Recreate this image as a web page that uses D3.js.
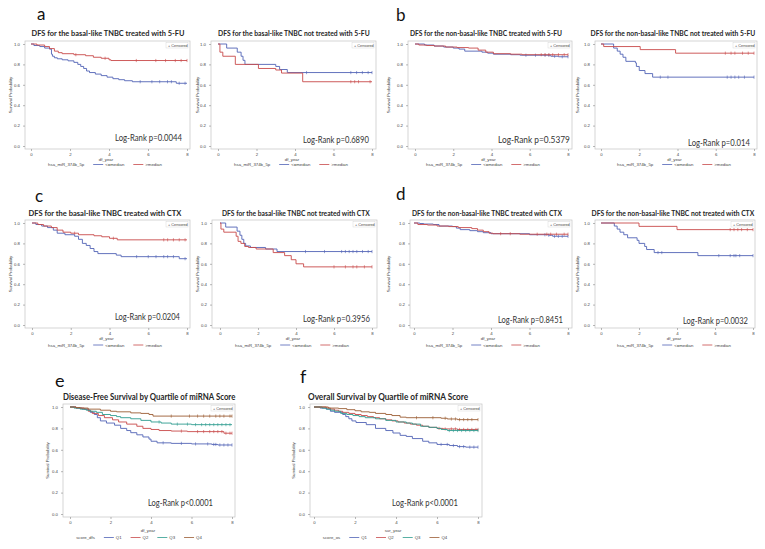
<!DOCTYPE html>
<html><head><meta charset="utf-8">
<script src="https://cdn.jsdelivr.net/npm/d3@7"></script>
<style>body{margin:0;background:#fff} svg{display:block}</style>
</head><body>
<svg id="chart" width="765" height="549"></svg>
<script>
// ---------- DATA ----------
const xTicks = [0, 2, 4, 6, 8];
const yTicks = [0, 0.2, 0.4, 0.6, 0.8, 1.0];
const letters = ["a", "b", "c", "d", "e", "f"];
const titles = [
  "DFS for the basal-like TNBC treated with 5-FU",
  "DFS for the basal-like TNBC not treated with 5-FU",
  "DFS for the non-basal-like TNBC treated with 5-FU",
  "DFS for the non-basal-like TNBC not treated with 5-FU",
  "DFS for the basal-like TNBC treated with CTX",
  "DFS for the basal-like TNBC not treated with CTX",
  "DFS for the non-basal-like TNBC treated with CTX",
  "DFS for the non-basal-like TNBC not treated with CTX",
  "Disease-Free Survival by Quartile of miRNA Score",
  "Overall Survival by Quartile of miRNA Score"
];
const logRank = ["Log-Rank p=0.0044", "Log-Rank p=0.6890", "Log-Rank p=0.5379", "Log-Rank p=0.014",
  "Log-Rank p=0.0204", "Log-Rank p=0.3956", "Log-Rank p=0.8451", "Log-Rank p=0.0032",
  "Log-Rank p<0.0001", "Log-Rank p<0.0001"];
const medianGroups = ["<=median", ">median"];
const quartileGroups = ["Q1", "Q2", "Q3", "Q4"];
const legendTitles = ["hsa_miR_374b_5p", "score_dfs", "score_os"];
const xTitles = ["df_year", "sur_year"];
const yTitle = "Survival Probability";
const censoredLabel = "Censored";

// Kaplan-Meier steps [time, survival] and censor times
const a1Low = [[0,1],[0.15,0.985],[0.45,0.975],[0.7,0.96],[0.95,0.95],[1.05,0.9],[1.1,0.88],[1.2,0.865],[1.35,0.855],[1.6,0.845],[1.9,0.835],[2.2,0.82],[2.4,0.8],[2.55,0.78],[2.7,0.76],[2.85,0.735],[3.0,0.72],[3.3,0.705],[3.6,0.69],[3.9,0.675],[4.2,0.66],[4.5,0.65],[4.8,0.64],[5.2,0.63],[7.45,0.615]];
const a1LowC = [5.6,6.2,6.6,7.0,7.2,7.6,7.9];
const a1High = [[0,1],[0.3,0.99],[0.7,0.975],[0.95,0.955],[1.2,0.93],[1.4,0.915],[1.6,0.905],[2.2,0.895],[2.8,0.885],[3.2,0.87],[3.6,0.86],[4.0,0.845],[4.1,0.838]];
const a1HighC = [2.3,3.8,5.4,6.4,6.9,7.4,7.7,8.0];
const a2Low = [[0,1],[0.45,0.96],[1.0,0.92],[1.2,0.88],[1.3,0.84],[1.4,0.8],[3.0,0.78],[3.2,0.75],[3.6,0.72]];
const a2LowC = [4.6,6.9,7.2,7.5,7.8,8.0];
const a2High = [[0,1],[0.1,0.92],[0.25,0.88],[0.9,0.8],[2.1,0.76],[3.0,0.745],[3.3,0.715],[4.4,0.63]];
const a2HighC = [6.9,7.1,7.3,7.9];
const b1Low = [[0,1],[0.5,0.99],[1.0,0.98],[1.5,0.97],[2.0,0.96],[2.3,0.95],[2.6,0.93],[3.5,0.92],[3.8,0.91],[4.1,0.9],[5.0,0.895],[5.5,0.89],[7.1,0.88],[7.5,0.875]];
const b1LowC = [5.8,6.3,6.8,7.0,7.3,7.7,8.0];
const b1High = [[0,1],[0.2,0.99],[0.6,0.985],[1.0,0.98],[1.6,0.97],[2.2,0.965],[2.8,0.96],[3.3,0.94],[3.7,0.92],[4.1,0.905],[5.0,0.9],[5.6,0.895]];
const b1HighC = [6.6,6.8,7.0,7.2,7.5,7.8,8.0];
const b2Low = [[0,1],[0.66,0.96],[0.85,0.93],[1.0,0.9],[1.15,0.87],[1.3,0.83],[1.8,0.815],[1.85,0.78],[2.0,0.74],[2.3,0.71],[2.7,0.675]];
const b2LowC = [3.1,3.5,6.6,6.8,7.0,7.2,7.5,8.0];
const b2High = [[0,1],[0.14,0.975],[2.05,0.945],[3.9,0.91]];
const b2HighC = [6.5,6.8,7.0,7.4,7.7,8.0];
const c1Low = [[0,1],[0.2,0.985],[0.5,0.97],[0.8,0.955],[1.1,0.93],[1.3,0.9],[1.7,0.885],[2.2,0.87],[2.4,0.84],[2.6,0.8],[2.8,0.78],[3.0,0.75],[3.2,0.72],[3.4,0.7],[4.35,0.685],[4.6,0.67],[7.6,0.65]];
const c1LowC = [5.4,6.0,6.4,6.8,7.0,7.3,7.9];
const c1High = [[0,1],[0.3,0.985],[0.6,0.97],[1.0,0.955],[1.3,0.93],[1.6,0.91],[2.0,0.9],[2.4,0.885],[3.2,0.875],[3.6,0.865],[4.0,0.85],[4.4,0.835]];
const c1HighC = [2.2,4.2,6.8,7.0,7.3,7.6,7.9];
const c2Low = [[0,1],[0.3,0.96],[0.9,0.92],[1.05,0.88],[1.15,0.84],[1.25,0.8],[1.35,0.775],[1.6,0.76],[2.4,0.745],[3.0,0.72]];
const c2LowC = [4.5,5.5,6.4,6.6,6.8,7.0,7.2,7.5,7.8,8.0];
const c2High = [[0,1],[0.05,0.94],[0.2,0.91],[0.85,0.87],[0.95,0.82],[1.1,0.8],[1.3,0.77],[1.5,0.76],[1.9,0.745],[2.8,0.71],[3.4,0.68],[3.75,0.64],[4.0,0.6],[4.4,0.57]];
const c2HighC = [6.0,6.6,7.0,7.2,7.6,8.0];
const d1Low = [[0,1],[0.3,0.995],[0.5,0.99],[1.0,0.985],[1.3,0.97],[2.0,0.965],[2.2,0.95],[2.4,0.935],[2.9,0.925],[3.3,0.915],[3.6,0.905],[4.0,0.895],[6.0,0.885],[7.0,0.88],[7.2,0.87]];
const d1LowC = [6.8,7.0,7.3,7.5,7.7,8.0];
const d1High = [[0,1],[0.2,0.985],[0.7,0.98],[1.2,0.97],[1.8,0.965],[2.3,0.955],[3.0,0.945],[3.3,0.93],[3.6,0.915],[3.9,0.9],[4.1,0.895],[5.5,0.89]];
const d1HighC = [4.5,5.0,6.4,6.9,7.1,7.4,7.8,8.0];
const d2Low = [[0,1],[0.7,0.97],[0.85,0.94],[1.0,0.91],[1.2,0.885],[1.4,0.855],[1.9,0.83],[2.0,0.8],[2.3,0.77],[2.4,0.74],[2.8,0.71],[5.1,0.68]];
const d2LowC = [3.0,3.2,6.2,6.8,7.0,7.1,7.3,8.0];
const d2High = [[0,1],[2.0,0.967],[4.0,0.935]];
const d2HighC = [6.8,7.0,7.2,7.4,7.7,8.0];
const eQ1 = [[0,1],[0.3,0.99],[0.6,0.98],[0.9,0.97],[1.0,0.95],[1.2,0.93],[1.35,0.9],[1.5,0.87],[1.8,0.85],[2.2,0.83],[2.5,0.8],[2.8,0.78],[3.0,0.76],[3.3,0.74],[3.6,0.72],[3.9,0.7],[4.0,0.68],[4.3,0.665],[5.0,0.66],[6.0,0.655],[7.0,0.65],[7.3,0.645]];
const eQ1C = [4.6,5.5,6.2,6.8,7.1,7.2,7.4,7.6,7.8,8.0];
const eQ2 = [[0,1],[0.3,0.99],[0.7,0.98],[0.9,0.96],[1.1,0.94],[1.4,0.92],[1.7,0.9],[2.1,0.88],[2.4,0.86],[2.8,0.84],[3.3,0.82],[3.6,0.8],[4.0,0.79],[4.4,0.78],[5.0,0.775],[5.8,0.77],[7.6,0.755]];
const eQ2C = [5.5,6.3,6.6,6.9,7.1,7.3,7.5,7.7,7.9,8.0];
const eQ3 = [[0,1],[0.2,0.99],[0.5,0.98],[0.8,0.97],[1.0,0.96],[1.3,0.95],[1.6,0.93],[2.0,0.92],[2.3,0.91],[2.5,0.9],[3.0,0.89],[3.5,0.875],[4.0,0.86],[4.5,0.85],[5.0,0.84],[6.0,0.835]];
const eQ3C = [4.4,5.3,5.8,6.2,6.5,6.7,6.9,7.1,7.3,7.5,7.7,7.9];
const eQ4 = [[0,1],[0.3,0.995],[0.5,0.99],[0.9,0.98],[1.5,0.97],[2.0,0.96],[2.3,0.955],[3.0,0.945],[3.5,0.94],[3.9,0.93],[4.1,0.915]];
const eQ4C = [5.0,5.9,6.3,6.6,6.9,7.2,7.4,7.6,7.9,8.0];
const fQ1 = [[0,1],[0.3,0.99],[0.6,0.98],[0.8,0.96],[1.0,0.95],[1.4,0.93],[1.55,0.91],[1.7,0.89],[1.85,0.87],[2.05,0.855],[2.55,0.835],[3.0,0.8],[3.5,0.78],[3.85,0.757],[4.2,0.735],[4.5,0.725],[4.8,0.705],[5.3,0.68],[5.6,0.665],[6.0,0.65],[6.6,0.64],[7.0,0.63],[7.4,0.625]];
const fQ1C = [6.2,6.5,6.8,7.1,7.3,7.6,7.8,8.0];
const fQ2 = [[0,1],[0.6,0.99],[0.8,0.98],[1.0,0.97],[1.2,0.96],[1.4,0.95],[1.7,0.94],[2.0,0.93],[2.3,0.92],[2.6,0.91],[2.9,0.9],[3.2,0.89],[3.5,0.88],[3.8,0.87],[4.1,0.86],[4.4,0.85],[4.7,0.84],[5.0,0.83],[5.3,0.82],[5.6,0.81],[6.0,0.8],[6.3,0.795],[7.0,0.79]];
const fQ2C = [6.1,6.4,6.7,6.9,7.1,7.3,7.5,7.7,7.9,8.0];
const fQ3 = [[0,1],[0.4,0.99],[0.6,0.98],[0.8,0.97],[1.0,0.96],[1.3,0.94],[1.6,0.93],[1.9,0.92],[2.2,0.91],[2.5,0.9],[3.0,0.89],[3.5,0.875],[4.0,0.86],[4.5,0.85],[4.8,0.84],[5.2,0.82],[5.6,0.81],[6.0,0.8],[6.2,0.79],[6.5,0.78]];
const fQ3C = [6.6,6.8,7.0,7.2,7.4,7.6,7.8,8.0];
const fQ4 = [[0,1],[0.7,0.99],[1.2,0.985],[1.6,0.975],[2.0,0.965],[2.3,0.955],[2.7,0.95],[3.0,0.94],[3.5,0.93],[3.8,0.92],[4.2,0.905],[4.5,0.9],[6.2,0.895],[6.5,0.888],[7.0,0.882]];
const fQ4C = [5.0,5.8,6.4,6.7,6.9,7.1,7.3,7.5,7.7,8.0];

// ---------- LAYOUT ----------
const colors = ["#5163b6", "#c8494a", "#2e9c8e", "#9b5c33"];
const row1 = {bt:41, bb:149, y1:44, y0:146, ty:35.5, xty:160.5, ly:164.5};
const row2 = {bt:220, bb:328, y1:223, y0:325, ty:215.5, xty:339.5, ly:345};
const row3 = {bt:404, bb:517, y1:407, y0:514, ty:400, xty:531.5, ly:537.5};
const panels = [
  {r:row1, bl:25, br:190, x0:31, x8:187, tcx:108, tw:153, lr:[115,141,67], yt:10, lcx:105, curves:[[a1Low,a1LowC],[a1High,a1HighC]], t:0, leg:0, xt:0},
  {r:row1, bl:211, br:376, x0:218, x8:372, tcx:294, tw:152, lr:[303,143,66], yt:197, lcx:291, curves:[[a2Low,a2LowC],[a2High,a2HighC]], t:1, leg:0, xt:0},
  {r:row1, bl:408, br:572, x0:415, x8:568, tcx:486, tw:152, lr:[498,143,72], yt:388, lcx:483, curves:[[b1Low,b1LowC],[b1High,b1HighC]], t:2, leg:0, xt:0},
  {r:row1, bl:595, br:757, x0:601, x8:754, tcx:673, tw:165, lr:[688,146,62], yt:577, lcx:674, curves:[[b2Low,b2LowC],[b2High,b2HighC]], t:3, leg:0, xt:0},
  {r:row2, bl:25, br:190, x0:32, x8:187, tcx:105, tw:153, lr:[115,320,65], yt:10, lcx:105, curves:[[c1Low,c1LowC],[c1High,c1HighC]], t:4, leg:0, xt:0},
  {r:row2, bl:212, br:377, x0:220, x8:372, tcx:296, tw:148, lr:[303,322,67], yt:197, lcx:292, curves:[[c2Low,c2LowC],[c2High,c2HighC]], t:5, leg:0, xt:0},
  {r:row2, bl:410, br:572, x0:414, x8:568, tcx:487, tw:150, lr:[498,323,65], yt:388, lcx:483, curves:[[d1Low,d1LowC],[d1High,d1HighC]], t:6, leg:0, xt:0},
  {r:row2, bl:595, br:755, x0:601, x8:753, tcx:673, tw:163, lr:[683,324,65], yt:577, lcx:674, curves:[[d2Low,d2LowC],[d2High,d2HighC]], t:7, leg:0, xt:0},
  {r:row3, bl:63, br:235, x0:70, x8:232, tcx:149, tw:172, lr:[148,506,65], yt:47, lcx:139, curves:[[eQ1,eQ1C],[eQ2,eQ2C],[eQ3,eQ3C],[eQ4,eQ4C]], t:8, leg:1, xt:0},
  {r:row3, bl:310, br:482, x0:314, x8:478, tcx:388, tw:160, lr:[392,506,66], yt:293, lcx:385, curves:[[fQ1,fQ1C],[fQ2,fQ2C],[fQ3,fQ3C],[fQ4,fQ4C]], t:9, leg:2, xt:1}
];
const letterPos = [[37,20,17],[396,21,17],[35,202,17],[396,200,17],[55,387,18],[300,383,18]];

const titleFont = "Lato, 'Open Sans', sans-serif";
const smallFont = "'Liberation Sans', Arial, sans-serif";

const svg = d3.select("#chart");
svg.append("rect").attr("width", 765).attr("height", 549).attr("fill", "#fff");

// Draw a text at (x, baseline y) with a horizontal scale so its width equals w
function scaledText(parent, x, y, w, size, str, opts) {
  const g = parent.append("g");
  const t = g.append("text").attr("x", 0).attr("y", 0)
    .style("font-family", opts.font).style("font-size", size + "px")
    .style("font-weight", opts.weight || "normal").attr("fill", opts.fill).text(str);
  const nat = t.node().getComputedTextLength();
  const sx = nat > 0 ? w / nat : 1;
  g.attr("transform", `translate(${x},${y}) scale(${sx},1)`);
  return t;
}

letters.forEach((L, i) => {
  svg.append("text").attr("x", letterPos[i][0]).attr("y", letterPos[i][1])
    .style("font-family", titleFont).style("font-size", letterPos[i][2] + "px").attr("fill", "#111").text(L);
});

panels.forEach(p => {
  const r = p.r;
  const g = svg.append("g");
  const x = d3.scaleLinear().domain([0, 8]).range([p.x0, p.x8]);
  const y = d3.scaleLinear().domain([0, 1]).range([r.y0, r.y1]);

  // title
  scaledText(g, p.tcx - p.tw / 2, r.ty, p.tw, p.t >= 8 ? 8.4 : 7.8, titles[p.t],
    {font: titleFont, weight: "bold", fill: "#262626"});

  // frame
  g.append("rect").attr("x", p.bl).attr("y", r.bt).attr("width", p.br - p.bl).attr("height", r.bb - r.bt)
    .attr("fill", "none").attr("stroke", "#c4c4c4").attr("stroke-width", 0.7);

  // axes
  const xa = g.append("g").attr("transform", `translate(0,${r.bb})`)
    .call(d3.axisBottom(x).tickValues(xTicks).tickSize(2).tickPadding(1.5).tickFormat(d3.format("d")));
  const ya = g.append("g").attr("transform", `translate(${p.bl},0)`)
    .call(d3.axisLeft(y).tickValues(yTicks).tickSize(2).tickPadding(3).tickFormat(d3.format(".1f")));
  [xa, ya].forEach(a => {
    a.select(".domain").remove();
    a.selectAll(".tick line").attr("stroke", "#888").attr("stroke-width", 0.6);
    a.selectAll(".tick text").attr("fill", "#444").style("font-family", smallFont).style("font-size", "4.3px");
  });

  // axis titles
  g.append("text").attr("x", (p.x0 + p.x8) / 2 - 3).attr("y", r.xty).attr("text-anchor", "middle")
    .style("font-family", smallFont).style("font-size", "4.3px").attr("fill", "#444").text(xTitles[p.xt]);
  g.append("text").attr("transform", `translate(${p.yt},${(r.bt + r.bb) / 2}) rotate(-90)`)
    .attr("text-anchor", "middle").attr("dy", "0.35em")
    .style("font-family", smallFont).style("font-size", "4.3px").attr("fill", "#444").text(yTitle);

  // curves
  const line = d3.line().x(d => x(d[0])).y(d => y(d[1])).curve(d3.curveStepAfter);
  p.curves.forEach((c, i) => {
    const pts = c[0].concat([[8, c[0][c[0].length - 1][1]]]);
    g.append("path").attr("d", line(pts)).attr("fill", "none")
      .attr("stroke", colors[i]).attr("stroke-width", 0.9);
    const survAt = t => { let s = 1; c[0].forEach(d => { if (d[0] <= t) s = d[1]; }); return s; };
    g.selectAll(null).data(c[1]).join("line")
      .attr("x1", d => x(d)).attr("x2", d => x(d))
      .attr("y1", d => y(survAt(d)) - 1.6).attr("y2", d => y(survAt(d)) + 1.6)
      .attr("stroke", colors[i]).attr("stroke-width", 0.6);
  });

  // censored legend
  const cw = 22, ch = 5.5;
  g.append("rect").attr("x", p.br - cw - 2).attr("y", r.bt + 1.5).attr("width", cw).attr("height", ch)
    .attr("fill", "#fff").attr("stroke", "#d0d0d0").attr("stroke-width", 0.4);
  g.append("text").attr("x", p.br - cw).attr("y", r.bt + 5.6)
    .style("font-family", smallFont).style("font-size", "3.8px").attr("fill", "#444").text("+ " + censoredLabel);

  // log-rank
  scaledText(g, p.lr[0], p.lr[1], p.lr[2], 10, logRank[p.t], {font: titleFont, fill: "#333"});

  // bottom legend
  const groups = p.leg === 0 ? medianGroups : quartileGroups;
  const lg = g.append("g");
  let cx = 0;
  const lab = lg.append("text").attr("x", cx).attr("y", 0).attr("dy", "0.35em")
    .style("font-family", smallFont).style("font-size", "4.3px").attr("fill", "#444").text(legendTitles[p.leg]);
  cx += lab.node().getComputedTextLength() + 9;
  groups.forEach((gname, i) => {
    lg.append("line").attr("x1", cx).attr("x2", cx + 10).attr("y1", 0).attr("y2", 0)
      .attr("stroke", colors[i]).attr("stroke-width", 0.8);
    cx += 12;
    const tx = lg.append("text").attr("x", cx).attr("y", 0).attr("dy", "0.35em")
      .style("font-family", smallFont).style("font-size", "4.3px").attr("fill", "#444").text(gname);
    cx += tx.node().getComputedTextLength() + 9;
  });
  cx -= 9;
  lg.attr("transform", `translate(${p.lcx - cx / 2},${r.ly})`);
});
</script>
</body></html>
